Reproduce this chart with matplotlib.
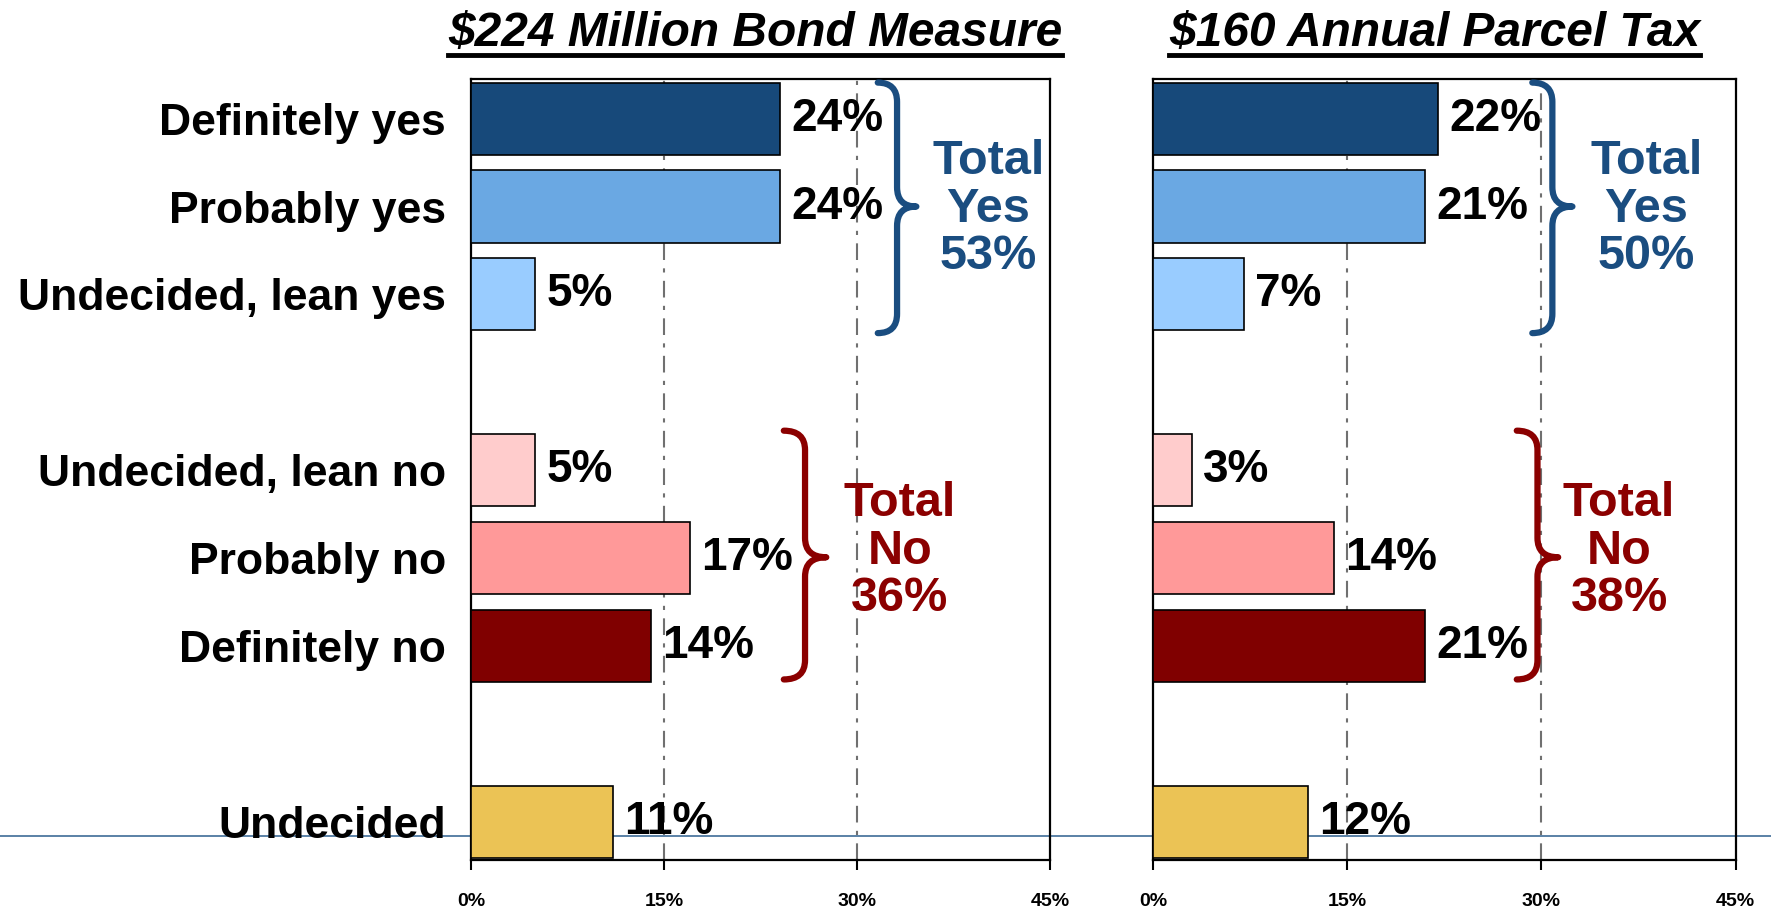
import numpy as np
import matplotlib
matplotlib.use("Agg")
import matplotlib.pyplot as plt
from matplotlib.path import Path
from matplotlib.patches import PathPatch
from matplotlib.lines import Line2D
from matplotlib import font_manager

plt.rcParams["font.family"] = ["Liberation Sans", "DejaVu Sans"]
plt.rcParams["font.weight"] = "bold"

# fonte estreita para os rótulos do eixo x, se existir
try:
    font_manager.findfont("Liberation Sans Narrow", fallback_to_default=False)
    FONTE_TICK = ["Liberation Sans Narrow", "Liberation Sans"]
except ValueError:
    FONTE_TICK = ["Liberation Sans"]

# Dados
categorias = ["Definitely yes", "Probably yes", "Undecided, lean yes",
              "Undecided, lean no", "Probably no", "Definitely no", "Undecided"]
posicoes = [0, 1, 2, 4, 5, 6, 8]
cores = ["#17497A", "#6AA8E3", "#99CCFF", "#FFCCCC", "#FF9999", "#800000", "#EBC355"]

titulos = ["$224 Million Bond Measure", "$160 Annual Parcel Tax"]
bond_vals = [24, 24, 5, 5, 17, 14, 11]
parcel_vals = [22, 21, 7, 3, 14, 21, 12]
total_yes = [53, 50]
total_no = [36, 38]
ticks = [0, 15, 30, 45]

AZUL = "#1A4D80"
VINHO = "#8B0000"


def chave(ax, x0, x1, y0, y1, ym, cor):
    """Desenha uma chave '}' vertical em coordenadas de dados."""
    xm = (x0 + x1) / 2
    r = 0.22
    verts = [(x0, y0), (xm, y0), (xm, y0 + r),
             (xm, ym - r),
             (xm, ym), (x1, ym),
             (xm, ym), (xm, ym + r),
             (xm, y1 - r),
             (xm, y1), (x0, y1)]
    codes = [Path.MOVETO, Path.CURVE3, Path.CURVE3,
             Path.LINETO,
             Path.CURVE3, Path.CURVE3,
             Path.CURVE3, Path.CURVE3,
             Path.LINETO,
             Path.CURVE3, Path.CURVE3]
    ax.add_patch(PathPatch(Path(verts, codes), facecolor="none", edgecolor=cor,
                           lw=4.5, capstyle="round", joinstyle="round", zorder=4))


def painel(ax, valores, ty, tn, brace_yes, brace_no, txt_yes, txt_no, mostra_rotulos):
    ax.set_facecolor("none")
    ax.barh(posicoes, valores, height=0.82, color=cores, edgecolor="black", lw=1.2, zorder=3)
    for p, v in zip(posicoes, valores):
        ax.annotate(f"{v}%", (v, p), xytext=(8, 0), textcoords="offset points",
                    va="center", ha="left", fontsize=33, fontweight="bold", zorder=5)
    for g in [15, 30]:
        ax.axvline(g, color="#707070", lw=1.5, ls=(0, (8, 4, 2, 4)), zorder=1)

    chave(ax, *brace_yes, AZUL)
    chave(ax, *brace_no, VINHO)
    ax.text(txt_yes[0], txt_yes[1], f"Total\nYes\n{ty}%", color=AZUL, ha="center",
            va="center", fontsize=35, fontweight="bold", linespacing=1.07)
    ax.text(txt_no[0], txt_no[1], f"Total\nNo\n{tn}%", color=VINHO, ha="center",
            va="center", fontsize=35, fontweight="bold", linespacing=1.07)

    ax.set_xlim(0, 45)
    ax.set_ylim(8.43, -0.45)
    ax.set_xticks(ticks)
    ax.set_xticklabels([f"{t}%" for t in ticks], fontsize=14, fontweight="bold",
                       family=FONTE_TICK)
    ax.tick_params(axis="x", direction="out", length=7, width=1.5, pad=17)
    ax.set_yticks(posicoes)
    if mostra_rotulos:
        ax.set_yticklabels(categorias, fontsize=32, fontweight="bold")
        ax.tick_params(axis="y", length=0, pad=18)
    else:
        ax.set_yticklabels([])
        ax.tick_params(axis="y", length=0)
    for s in ax.spines.values():
        s.set_linewidth(1.6)


def main():
    fig = plt.figure(figsize=(17.71, 9.09), dpi=100)
    ax1 = fig.add_axes([0.266, 0.0543, 0.327, 0.8587])
    ax2 = fig.add_axes([0.651, 0.0543, 0.329, 0.8587])

    painel(ax1, bond_vals, total_yes[0], total_no[0],
           (31.6, 34.6, -0.41, 2.44, 1.0), (24.3, 27.6, 3.55, 6.38, 4.99),
           (40.2, 1.03), (33.3, 4.92), True)
    painel(ax2, parcel_vals, total_yes[1], total_no[1],
           (29.3, 32.4, -0.41, 2.44, 1.0), (28.1, 31.3, 3.55, 6.38, 4.99),
           (38.1, 1.03), (36.0, 4.92), False)

    # Títulos sublinhados
    titulos_txt = []
    for tit, xc in zip(titulos, [0.4265, 0.8100]):
        t = fig.text(xc, 0.948, tit.replace("$", r"\$"), ha="center", va="baseline",
                     fontsize=34.5, fontweight="bold", style="italic")
        titulos_txt.append(t)
    fig.canvas.draw()
    inv = fig.transFigure.inverted()
    for t in titulos_txt:
        bb = t.get_window_extent().transformed(inv)
        fig.add_artist(Line2D([bb.x0, bb.x1], [0.939, 0.939], color="black", lw=3.5,
                              transform=fig.transFigure))

    # Linha horizontal atravessando a figura
    fig.add_artist(Line2D([0, 1], [0.0803, 0.0803], color="#2D5F8E", lw=1.1,
                          transform=fig.transFigure, zorder=-1))

    fig.savefig("out.png", dpi=100, facecolor="white")


if __name__ == "__main__":
    main()
